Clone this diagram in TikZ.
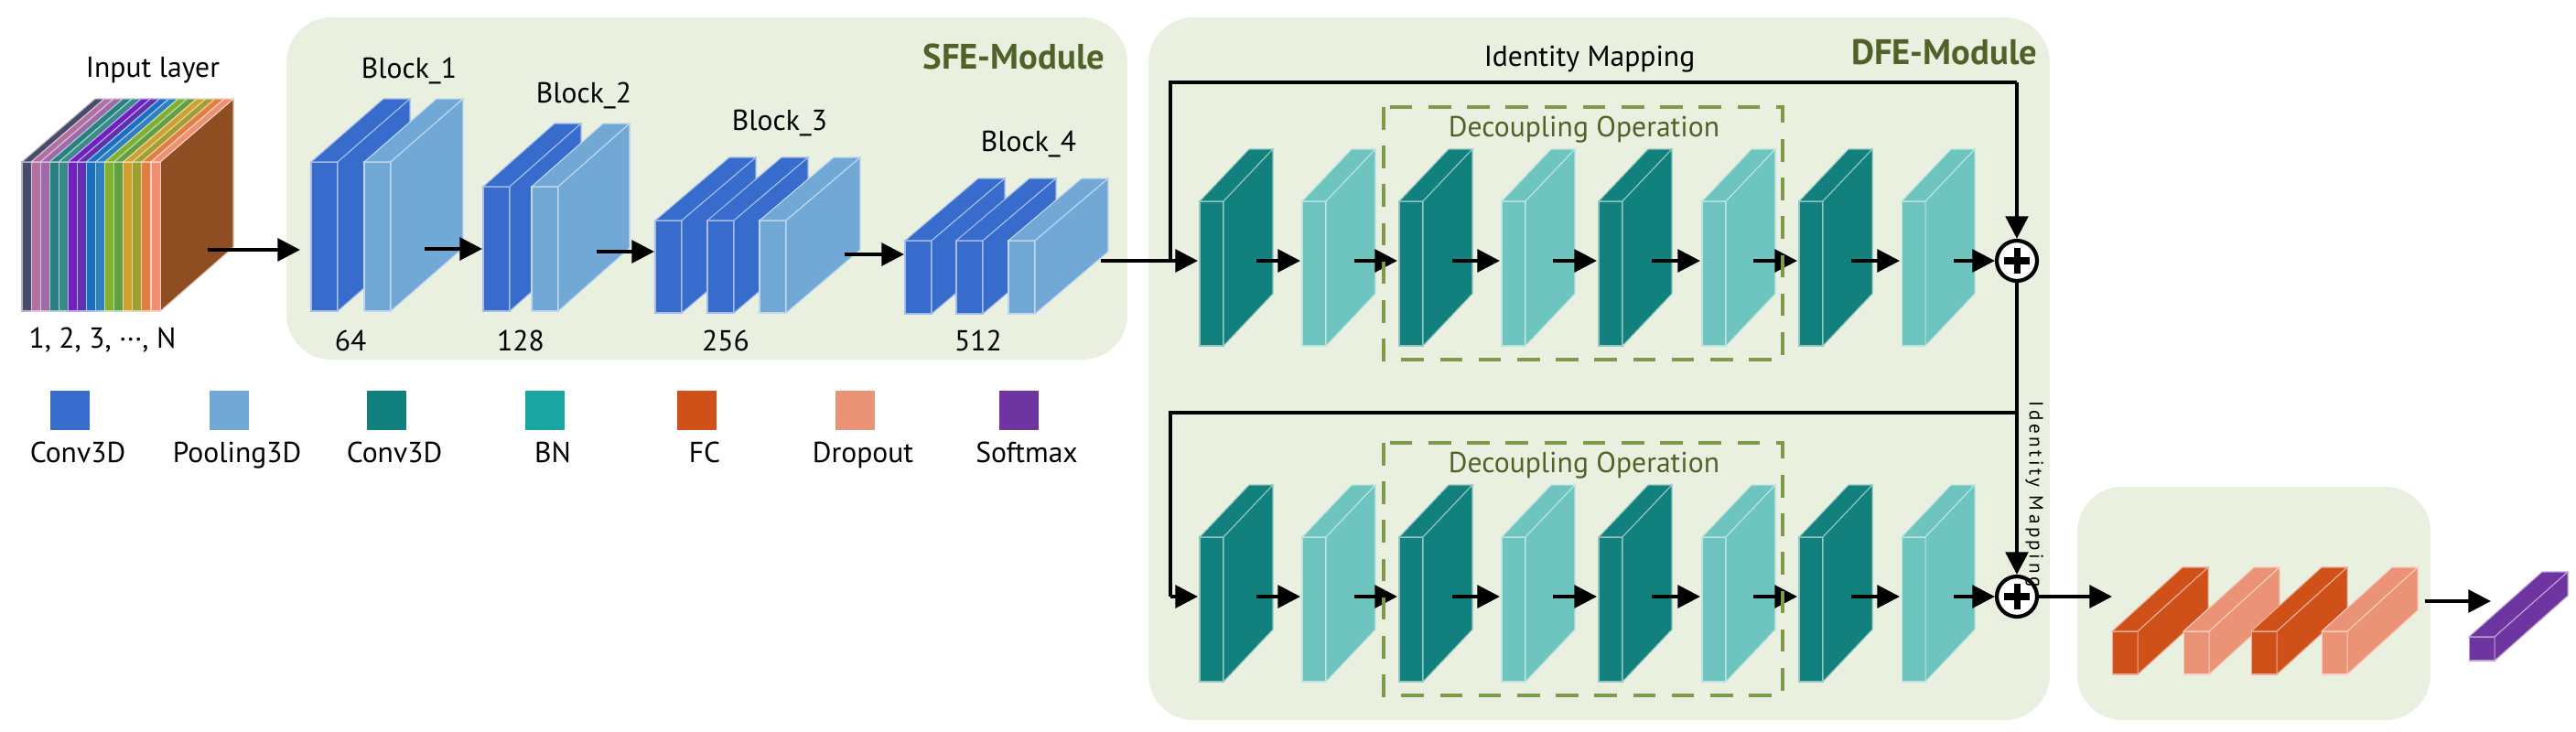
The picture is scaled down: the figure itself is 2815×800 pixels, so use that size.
\documentclass[tikz,border=0pt]{standalone}
\usepackage{fontspec}
\setmainfont{PT Sans}
\usetikzlibrary{arrows.meta}
\definecolor{cvA}{HTML}{376CCC}
\definecolor{plA}{HTML}{72A8D6}
\definecolor{cvB}{HTML}{12807C}
\definecolor{bnB}{HTML}{6EC4BF}
\definecolor{bnL}{HTML}{1AA6A2}
\definecolor{fcC}{HTML}{CF5019}
\definecolor{drC}{HTML}{EA9377}
\definecolor{smC}{HTML}{6E35A0}
\definecolor{modbg}{HTML}{EAF0DF}
\definecolor{modtx}{HTML}{4F6228}
\definecolor{dash}{HTML}{7F9A48}
\definecolor{brn}{HTML}{8E4E22}
\newcommand\plt[7]{% x ytop w h dx dy color
  \fill[#7,draw=white!55!#7,line width=0.3pt] (#1,#2) rectangle ++(#3,#4);
  \fill[#7,draw=white!55!#7,line width=0.3pt] (#1,#2) -- ++(#5,#6) -- ++(#3,0) -- ++(-#5,-#6) -- cycle;
  \fill[#7,draw=white!55!#7,line width=0.3pt] (#1+#3,#2) -- ++(#5,#6) -- ++(0,#4) -- ++(-#5,-#6) -- cycle;}
\tikzset{
  mod/.style={fill=modbg,rounded corners=14pt},
  lbl/.style={font=\fontsize{9}{10}\selectfont,inner sep=0},
  modlbl/.style={font=\fontsize{11}{12}\selectfont\bfseries,text=modtx,inner sep=0},
  dec/.style={draw=dash,line width=1.1pt,dash pattern=on 7pt off 5pt},
  dectx/.style={font=\fontsize{9}{10}\selectfont,text=modtx,inner sep=0},
  arr/.style={line width=1.1pt,-{Triangle[length=7pt,width=7pt]}},
  ln/.style={line width=1.1pt},
  plus/.style={circle,draw,line width=1.2pt,fill=white,minimum size=12.5pt,inner sep=0,
    path picture={\draw[line width=2pt] (path picture bounding box.center) ++(-4pt,0) -- ++(8pt,0);
                  \draw[line width=2pt] (path picture bounding box.center) ++(0,-4pt) -- ++(0,8pt);}},
}
\begin{document}
\begin{tikzpicture}[x=0.01cm,y=-0.01cm]
\useasboundingbox (0,0) rectangle (2815,800);
% module backgrounds
\fill[mod] (313,19) rectangle (1232,393);
\fill[mod] (1255,19) rectangle (2240,787);
\fill[mod] (2270,532) rectangle (2656,787);
\node[modlbl,anchor=east] (sfe) at (1208,62) {SFE-Module};
\node[modlbl,anchor=east] (dfe) at (2227,57) {DFE-Module};
% input stack
\fill[brn,draw=white!60!brn,line width=0.3pt] (175,177) -- (255,108) -- (255,270) -- (175,340) -- cycle;
\foreach \c [count=\i] in {4A4A6A,B070A0,A06AA8,2A8080,3A8A8A,7020C0,6030B0,1A70C0,3080C0,80B030,60A040,D0A030,A0A030,E08040,F09070}{
  \definecolor{tmp}{HTML}{\c}
  \pgfmathsetmacro\xx{24+(\i-1)*10.07}
  \fill[tmp,draw=white!60!tmp,line width=0.3pt] (\xx,177) rectangle ++(10.07,163);
  \fill[tmp,draw=white!60!tmp,line width=0.3pt] (\xx,177) -- ++(80,-69) -- ++(10.07,0) -- ++(-80,69) -- cycle;
}
\node[lbl] (inl) at (167,77) {Input layer};
\node[lbl] (inn) at (112,372) {1, 2, 3, ···, N};
% blocks
\plt{340}{177}{29}{163}{79}{-69}{cvA}
\plt{398}{177}{29}{163}{79}{-69}{plA}
\plt{528}{204}{29}{136}{78}{-69}{cvA}
\plt{581}{204}{29}{136}{78}{-69}{plA}
\plt{716}{241}{29}{101}{81}{-69}{cvA}
\plt{773}{241}{29}{101}{81}{-69}{cvA}
\plt{830}{241}{29}{101}{81}{-69}{plA}
\plt{989}{263}{29}{80}{80}{-68}{cvA}
\plt{1045}{263}{29}{80}{80}{-68}{cvA}
\plt{1102}{263}{29}{80}{80}{-68}{plA}
\node[lbl] (b1) at (447,77) {Block\_1};
\node[lbl] (b2) at (638,104) {Block\_2};
\node[lbl] (b3) at (852,135) {Block\_3};
\node[lbl] (b4) at (1124,157) {Block\_4};
\node[lbl] (n1) at (383,372) {64};
\node[lbl] (n2) at (569,372) {128};
\node[lbl] (n3) at (793,372) {256};
\node[lbl] (n4) at (1069,372) {512};
\coordinate (a0) at (227,273); \coordinate (a0e) at (328,273);
\coordinate (a1) at (464,272); \coordinate (a1e) at (527,272);
\coordinate (a2) at (652,275); \coordinate (a2e) at (715,275);
\coordinate (a3) at (923,278); \coordinate (a3e) at (988,278);
\draw[arr] (a0) -- (a0e);
\draw[arr] (a1) -- (a1e);
\draw[arr] (a2) -- (a2e);
\draw[arr] (a3) -- (a3e);
% legend
\foreach \c/\x/\t in {cvA/85/Conv3D,plA/259/Pooling3D,cvB/431/Conv3D,bnL/604/BN,fcC/770/FC,drC/943/Dropout,smC/1122/Softmax}{
  \fill[\c] (\x-30,427) rectangle ++(43,43);
  \node[lbl,anchor=base] at (\x,505) {\t};
}
% DFE rows
\foreach \oy/\r in {0/1,367/2}{
  \foreach \x/\c in {1311/cvB,1423/bnB,1529/cvB,1641/bnB,1747/cvB,1860/bnB,1966/cvB,2078/bnB}{
    \plt{\x}{220+\oy}{26}{158}{54}{-57}{\c}
  }
  \foreach \xa/\xb in {1373/1421,1480/1527,1587/1639,1697/1745,1805/1858,1916/1964,2023/2076}{
    \draw[arr] (\xa,285+\oy) -- (\xb,285+\oy);
  }
  \draw[dec] (1512,117+\oy) rectangle (1948,393+\oy);
  \node[dectx] at (1731,142+\oy) {Decoupling Operation};
}
\node[plus] (p1) at (2204,285) {};
\node[plus] (p2) at (2204,652) {};
\draw[arr] (2135,285) -- (p1);
\draw[arr] (2135,652) -- (p2);
\node[lbl] (idm) at (1737,65) {Identity Mapping};
\coordinate (s1) at (1279,285);
\coordinate (s1t) at (1279,90);
\coordinate (s1r) at (2204,90);
\coordinate (e1) at (1203,285); \coordinate (e1e) at (1309,285);
\draw[arr] (e1) -- (e1e);
\draw[ln] (s1) -- (s1t) -- (s1r);
\draw[arr] (s1r) -- (p1);
\coordinate (s2) at (1279,652);
\coordinate (s2t) at (1279,451);
\coordinate (s2r) at (2204,451);
\coordinate (s2e) at (1309,652);
\draw[ln] (p1) -- (s2r);
\draw[ln] (s2r) -- (s2t) -- (s2);
\draw[arr] (s2) -- (s2e);
\draw[arr] (s2r) -- (p2);
\node[font=\fontsize{6}{7}\selectfont,inner sep=0,rotate=-90] (idm2) at (2223,540) {I\,d\,e\,n\,t\,i\,t\,y\, M\,a\,p\,p\,i\,n\,g};
% classifier
\coordinate (c0e) at (2308,652);
\draw[arr] (p2) -- (c0e);
\plt{2308}{690}{28}{47}{77}{-70}{fcC}
\plt{2386}{690}{28}{47}{77}{-70}{drC}
\plt{2460}{690}{28}{47}{77}{-70}{fcC}
\plt{2537}{690}{28}{47}{77}{-70}{drC}
\coordinate (c1) at (2650,657); \coordinate (c1e) at (2722,657);
\draw[arr] (c1) -- (c1e);
\plt{2698}{696}{28}{26}{80}{-71}{smC}
\end{tikzpicture}
\end{document}
